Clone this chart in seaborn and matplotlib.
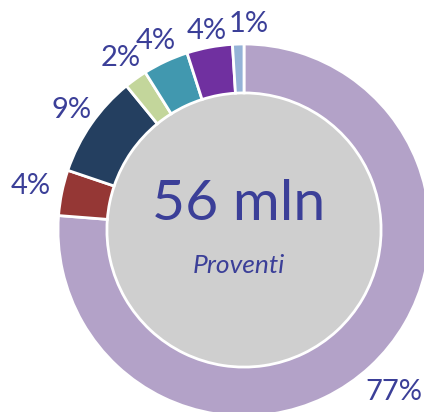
import numpy as np
import matplotlib
matplotlib.use("Agg")
import matplotlib.pyplot as plt
import seaborn as sns

# slice values in drawing order (clockwise from 12 o'clock)
shares = [77, 4, 9, 2, 4, 4, 1]
labels = ["77%", "4%", "9%", "2%", "4%", "4%", "1%"]
colors = ["#B3A2C8", "#953735", "#243F60", "#C3D69B", "#4198AF", "#7030A0", "#95B3D7"]
total_text = "56 mln"
sub_text = "Proventi"

TEXT_COL = "#3B3F98"
label_dist = [1.19, 1.17, 1.13, 1.14, 1.12, 1.09, 1.11]
label_nudge = [0, 0, 0, 0, 0, 0, -3]  # degrees

sns.set_theme(style="white")
plt.rcParams["font.family"] = ["Lato", "DejaVu Sans"]

fig = plt.figure(figsize=(4.24, 4.12), dpi=100)
ax = fig.add_axes([0, 0, 1, 1])

wedges, _ = ax.pie(shares, colors=colors, startangle=90, counterclock=False,
                   radius=1.0, wedgeprops=dict(width=0.263, edgecolor="white", linewidth=2))

ax.add_patch(plt.Circle((0, 0), 0.733, color="#CFCFCF", zorder=0))

for w, lab, d, n in zip(wedges, labels, label_dist, label_nudge):
    ang = np.deg2rad((w.theta1 + w.theta2) / 2 + n)
    ax.text(d * np.cos(ang), d * np.sin(ang), lab, ha="center", va="center",
            fontsize=21, color=TEXT_COL, fontweight="normal")

ax.text(-0.03, 0.135, total_text, ha="center", va="center", fontsize=41, color=TEXT_COL)
ax.text(-0.03, -0.19, sub_text, ha="center", va="center", fontsize=19,
        color=TEXT_COL, style="italic")

# centre of the ring sits at pixel (244, 230) of the 424x412 canvas, radius 186 px
ax.set_xlim(-244 / 186, 180 / 186)
ax.set_ylim(-182 / 186, 230 / 186)
ax.set_aspect("auto")
ax.axis("off")

fig.savefig("out.png", dpi=100)
